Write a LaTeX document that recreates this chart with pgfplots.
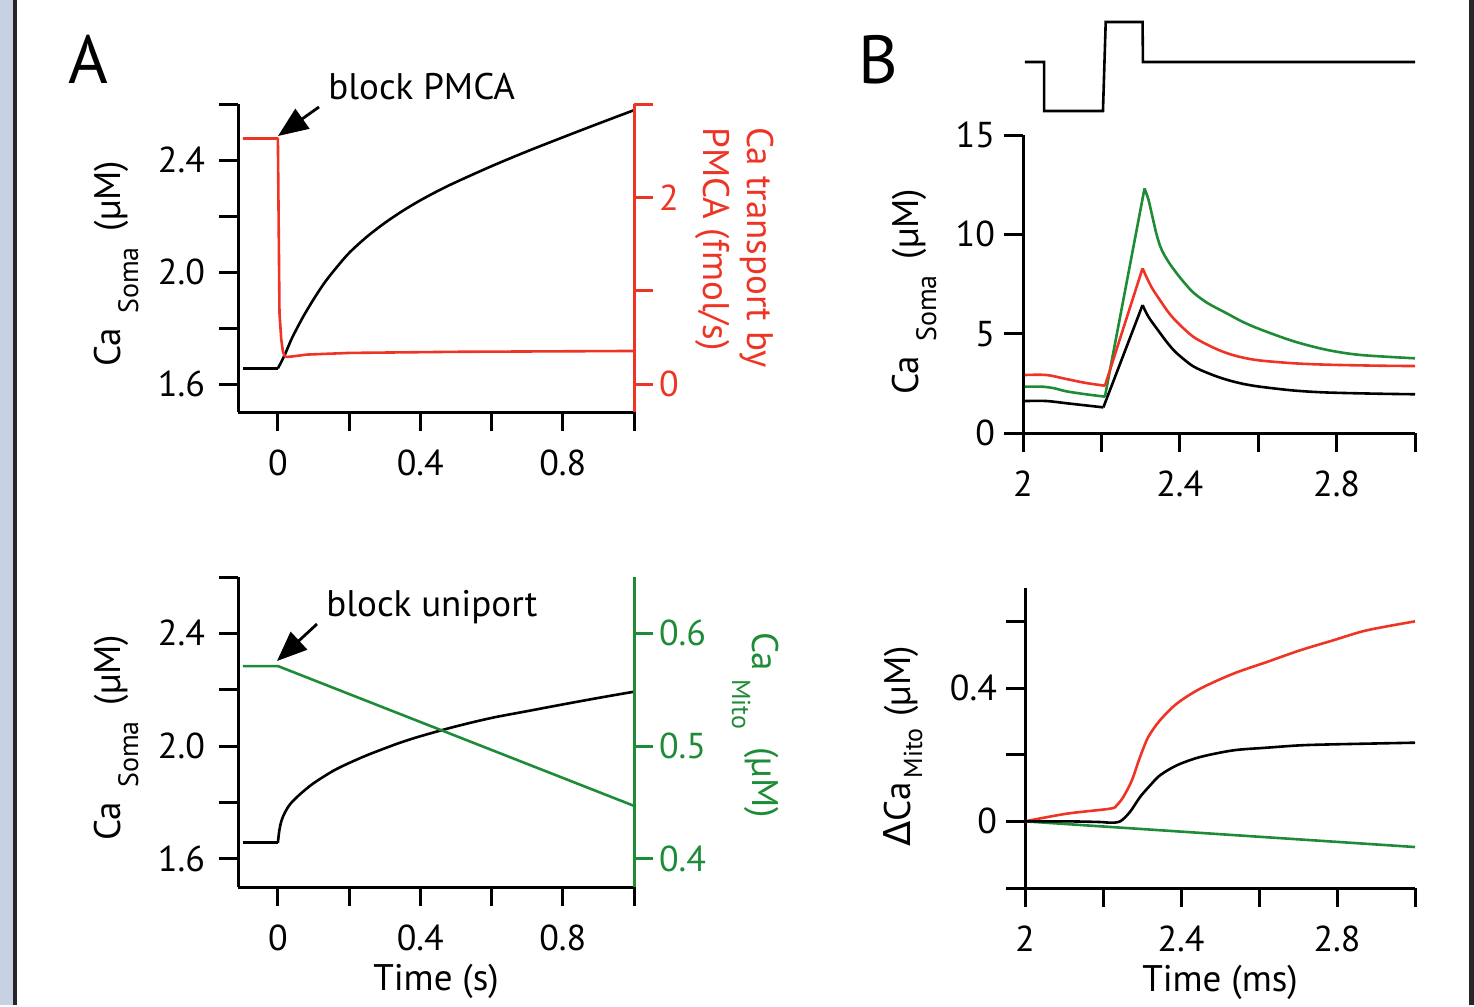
\documentclass[border=0pt]{standalone}
\usepackage{fontspec}
\setmainfont{PT Sans}
\newfontfamily\dejavu{DejaVu Sans}
\usepackage{pgfplots}
\pgfplotsset{compat=1.18}
\usetikzlibrary{arrows.meta}

\definecolor{igred}{RGB}{238,52,36}
\definecolor{iggreen}{RGB}{30,140,55}
\definecolor{strip}{RGB}{198,210,228}
\definecolor{framec}{RGB}{40,36,42}

\newcommand\lab{\fontsize{18.5}{20}\selectfont}
\newcommand\subf{\fontsize{14}{14}\selectfont}

\pgfplotsset{
  igor/.style={
    scale only axis,
    clip=false,
    axis line style={line width=1.5pt,-},
    tick align=outside,
    major tick length=9.5pt,
    tick style={line width=1.5pt, black},
    tick label style={font=\fontsize{18}{20}\selectfont},
    xticklabel style={yshift=-6pt},
    every axis plot/.append style={line width=1.3pt, line join=round},
    /pgf/number format/assume math mode=true,
  },
}

\begin{document}
\begin{tikzpicture}
\begin{scope}[x=0.5pt,y=-0.5pt]
  \useasboundingbox (0,0) rectangle (1474,1005);
  \fill[strip] (0,0) rectangle (13,1005);
  \fill[framec] (13,0) rectangle (17,1005);
  \fill[framec] (1469,0) rectangle (1474,1005);
\end{scope}

% ---- A, top: block PMCA
\begin{axis}[igor, at={(119pt,-206pt)}, anchor=south west,
  width=198pt, height=154pt,
  axis x line*=bottom, axis y line*=left,
  yticklabel style={xshift=-3.5pt},
  xmin=-0.112, xmax=1, ymin=1.5, ymax=2.6,
  xtick={0,0.2,0.4,0.6,0.8,1}, xticklabels={0,,0.4,,0.8,},
  ytick={1.6,1.8,2.0,2.2,2.4,2.6}, yticklabels={1.6,,2.0,,2.4,}]
\addplot[black] coordinates {(-0.098,1.656) (0,1.656)};
\addplot[black, smooth, tension=0.5] coordinates {
  (0,1.656) (0.01,1.68) (0.022,1.712) (0.04,1.765) (0.07,1.838)
  (0.1,1.902) (0.13,1.960) (0.16,2.009) (0.2,2.068) (0.25,2.126)
  (0.3,2.175) (0.35,2.218) (0.4,2.256) (0.45,2.290) (0.5,2.321)
  (0.6,2.378) (0.7,2.431) (0.8,2.481) (0.9,2.530) (1.0,2.578)};
\end{axis}
\begin{axis}[igor, at={(119pt,-206pt)}, anchor=south west,
  width=198pt, height=154pt,
  axis x line=none, axis y line*=right,
  y axis line style={igred}, ytick style={igred},
  yticklabel style={text=igred, xshift=-0.5pt},
  xmin=-0.112, xmax=1, ymin=-0.3, ymax=3,
  ytick={0,1,2,3}, yticklabels={0,,2,}]
\addplot[igred] coordinates {
  (-0.098,2.63) (0,2.63) (0.0045,0.76) (0.0094,0.48) (0.014,0.35)
  (0.019,0.30) (0.025,0.29) (0.04,0.295) (0.08,0.315) (0.2,0.333)
  (0.5,0.345) (1.0,0.354)};
\end{axis}

% ---- A, bottom: block uniport
\begin{axis}[igor, at={(119pt,-443.5pt)}, anchor=south west,
  width=198pt, height=155pt,
  axis x line*=bottom, axis y line*=left,
  yticklabel style={xshift=-3.5pt},
  xmin=-0.112, xmax=1, ymin=1.5, ymax=2.6,
  xtick={0,0.2,0.4,0.6,0.8,1}, xticklabels={0,,0.4,,0.8,},
  ytick={1.6,1.8,2.0,2.2,2.4,2.6}, yticklabels={1.6,,2.0,,2.4,},
  xlabel={Time (s)}, xlabel style={font=\lab, yshift=0.5pt}]
\addplot[black] coordinates {(-0.098,1.657) (0,1.657)};
\addplot[black, smooth, tension=0.5] coordinates {
  (0,1.657) (0.004,1.70) (0.01,1.735) (0.02,1.765) (0.035,1.795)
  (0.062,1.829) (0.1,1.868) (0.155,1.912) (0.2,1.940) (0.249,1.967)
  (0.3,1.992) (0.343,2.012) (0.4,2.035) (0.5,2.07) (0.6,2.10)
  (0.7,2.124) (0.792,2.146) (0.9,2.171) (1.0,2.193)};
\end{axis}
\begin{axis}[igor, at={(119pt,-443.5pt)}, anchor=south west,
  width=198pt, height=155pt,
  axis x line=none, axis y line*=right,
  y axis line style={iggreen}, ytick style={iggreen},
  yticklabel style={text=iggreen, xshift=-0.5pt},
  xmin=-0.112, xmax=1, ymin=0.375, ymax=0.65,
  ytick={0.4,0.5,0.6}, yticklabels={0.4,0.5,0.6}]
\addplot[iggreen] coordinates {(-0.098,0.571) (0,0.571) (1.0,0.447)};
\end{axis}

% ---- B, command trace
\begin{axis}[at={(511.5pt,-55.5pt)}, anchor=south west, scale only axis,
  width=196pt, height=49pt, hide axis, clip=false,
  xmin=2, xmax=3, ymin=-1, ymax=1]
\addplot[black, line width=1.3pt] coordinates {
  (2.005,0) (2.054,0) (2.054,-1) (2.204,-1) (2.211,0.816)
  (2.305,0.816) (2.306,0) (3.0,0)};
\end{axis}

% ---- B, top: Ca soma
\begin{axis}[igor, at={(511.5pt,-216.5pt)}, anchor=south west,
  width=196pt, height=149pt,
  axis x line*=bottom, axis y line*=left,
  yticklabel style={xshift=-1pt},
  xmin=2, xmax=3, ymin=0, ymax=15,
  xtick={2,2.2,2.4,2.6,2.8,3}, xticklabels={2,,2.4,,2.8,},
  ytick={0,5,10,15}, yticklabels={0,5,10,15}]
% green
\addplot[iggreen, smooth, tension=0.5] coordinates {
  (2.005,2.33) (2.05,2.33) (2.08,2.25) (2.11,2.10) (2.16,1.95) (2.209,1.83)};
\addplot[iggreen] coordinates {(2.209,1.83) (2.31,12.31)};
\addplot[iggreen, smooth, tension=0.5] coordinates {
  (2.31,12.31) (2.32,11.75) (2.33,10.9) (2.34,10.05) (2.35,9.4)
  (2.36,8.98) (2.375,8.5) (2.392,8.04) (2.41,7.6) (2.434,7.08)
  (2.47,6.55) (2.52,6.02) (2.56,5.6) (2.605,5.22) (2.69,4.62)
  (2.774,4.19) (2.86,3.93) (3.0,3.76)};
% red
\addplot[igred, smooth, tension=0.5] coordinates {
  (2.005,2.92) (2.06,2.92) (2.11,2.72) (2.16,2.52) (2.209,2.38)};
\addplot[igred] coordinates {(2.209,2.38) (2.305,8.29)};
\addplot[igred, smooth, tension=0.5] coordinates {
  (2.305,8.29) (2.315,7.85) (2.329,7.3) (2.349,6.7) (2.37,6.1)
  (2.392,5.6) (2.434,4.85) (2.48,4.35) (2.52,4.02) (2.56,3.8)
  (2.605,3.65) (2.69,3.51) (2.774,3.44) (2.9,3.39) (3.0,3.37)};
% black
\addplot[black, smooth, tension=0.5] coordinates {
  (2.005,1.61) (2.06,1.61) (2.11,1.5) (2.16,1.39) (2.205,1.29)};
\addplot[black] coordinates {(2.205,1.29) (2.305,6.44)};
\addplot[black, smooth, tension=0.5] coordinates {
  (2.305,6.44) (2.32,5.85) (2.349,5.05) (2.37,4.5) (2.392,4.02)
  (2.434,3.36) (2.48,2.95) (2.52,2.68) (2.56,2.48) (2.605,2.33)
  (2.69,2.14) (2.774,2.04) (2.9,1.98) (3.0,1.95)};
\end{axis}

% ---- B, bottom: delta Ca mito
\begin{axis}[igor, at={(512.5pt,-444pt)}, anchor=south west,
  width=195pt, height=150pt,
  axis x line*=bottom, axis y line*=left,
  yticklabel style={xshift=-1pt},
  xmin=2, xmax=3, ymin=-0.2, ymax=0.7,
  xtick={2,2.2,2.4,2.6,2.8,3}, xticklabels={2,,2.4,,2.8,},
  ytick={-0.2,0,0.2,0.4,0.6}, yticklabels={,0,,0.4,},
  xlabel={Time (ms)}, xlabel style={font=\lab, yshift=0.5pt}]
\addplot[iggreen] coordinates {(2.0,0) (3.0,-0.077)};
\addplot[igred, smooth, tension=0.5] coordinates {
  (2.0,0) (2.107,0.023) (2.218,0.038) (2.235,0.048) (2.252,0.073)
  (2.274,0.123) (2.295,0.193) (2.316,0.253) (2.346,0.303) (2.389,0.353)
  (2.449,0.398) (2.534,0.443) (2.62,0.478) (2.705,0.513) (2.79,0.543)
  (2.876,0.573) (3.0,0.60)};
\addplot[black, smooth, tension=0.5] coordinates {
  (2.0,0) (2.107,0.0) (2.192,-0.002) (2.218,-0.004) (2.244,0.0)
  (2.269,0.028) (2.295,0.073) (2.321,0.108) (2.346,0.138) (2.389,0.168)
  (2.449,0.193) (2.534,0.213) (2.62,0.221) (2.705,0.228) (2.79,0.231)
  (3.0,0.236)};
\end{axis}

% ---- labels and annotations
\begin{scope}[x=0.5pt,y=-0.5pt]
  \node[anchor=base, font=\fontsize{34}{34}\selectfont] at (88,83) {A};
  \node[anchor=base, font=\fontsize{34}{34}\selectfont] at (878,83) {B};
  \node[anchor=base west, inner sep=0, font=\lab] at (328,99) {block PMCA};
  \node[anchor=base west, inner sep=0, font=\lab] at (326,616) {block uniport};
  \draw[line width=1.4pt, -{Triangle[length=15pt,width=12pt]}] (319,107) -- (278,136);
  \draw[line width=1.4pt, -{Triangle[length=15pt,width=12pt]}] (317,624) -- (277,661);
  \node[rotate=90, anchor=base west, inner sep=0, font=\lab] at (120,367)
    {Ca\hspace{7pt}\raisebox{-9pt}{\subf Soma}\hspace{8pt}(µM)};
  \node[rotate=90, anchor=base west, inner sep=0, font=\lab] at (120,841)
    {Ca\hspace{7pt}\raisebox{-9pt}{\subf Soma}\hspace{8pt}(µM)};
  \node[rotate=90, anchor=base west, inner sep=0, font=\lab] at (918,395)
    {Ca\hspace{7pt}\raisebox{-9pt}{\subf Soma}\hspace{8pt}(µM)};
  \node[rotate=90, anchor=base west, inner sep=0, font=\lab] at (910,847)
    {{\dejavu Δ}Ca\hspace{2pt}\raisebox{-6pt}{\fontsize{13}{13}\selectfont Mito}\hspace{6pt}(µM)};
  \node[rotate=-90, anchor=base west, inner sep=0, font=\lab, text=igred] at (747,127) {Ca transport by};
  \node[rotate=-90, anchor=base west, inner sep=0, font=\lab, text=igred] at (703,127) {PMCA (fmol/s)};
  \node[rotate=-90, anchor=base west, inner sep=0, font=\lab, text=iggreen] at (752,632)
    {Ca\hspace{4pt}\raisebox{-10pt}{\fontsize{13}{13}\selectfont Mito}\hspace{9pt}(µM)};
\end{scope}
\end{tikzpicture}
\end{document}
